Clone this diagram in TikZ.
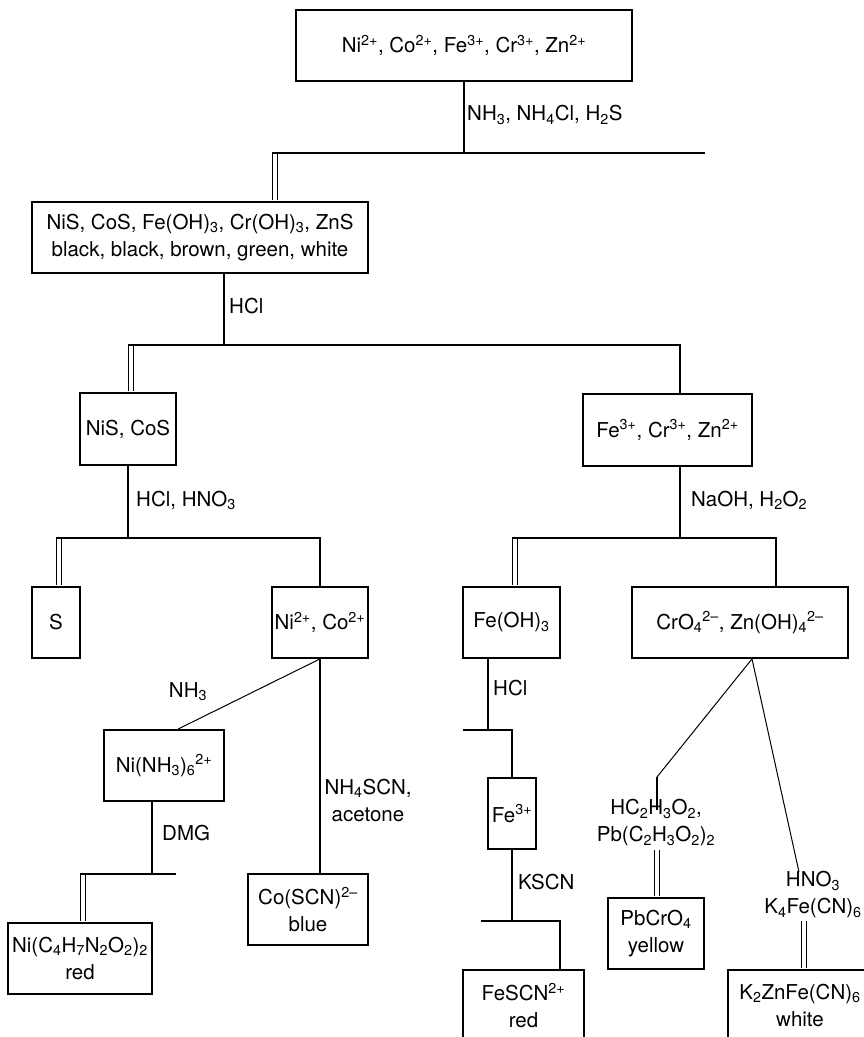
\documentclass[tikz,border=0pt]{standalone}
\usepackage{fontspec}
\setmainfont{TeX Gyre Heros}
\newcommand{\ssub}[1]{\textsubscript{#1}}
\newcommand{\ssup}[1]{\textsuperscript{#1}}
\begin{document}
\begin{tikzpicture}[x=1pt, y=-1pt,
  box/.style={draw, line width=1.8pt, inner sep=0pt, align=center, font=\fontsize{20.5}{27}\selectfont},
  lbl/.style={inner sep=0pt, align=center, font=\fontsize{20.5}{27}\selectfont},
  stem/.style={line width=1.8pt},
  leg/.style={line width=1pt},
  dbl/.style={line width=1.7pt, double=white, double distance=3.4pt, shorten >=0.9pt}]
\useasboundingbox (0,0) rectangle (863,1037);
% boxes
\node[box, minimum width=336pt, minimum height=71pt] (top) at (464,45.5) {Ni\ssup{2+}, Co\ssup{2+}, Fe\ssup{3+}, Cr\ssup{3+}, Zn\ssup{2+}};
\node[box, minimum width=336pt, minimum height=71pt] (ppt) at (200,237.5) {NiS, CoS, Fe(OH)\ssub{3}, Cr(OH)\ssub{3}, ZnS\\black, black, brown, green, white};
\node[box, minimum width=96pt, minimum height=72pt] (nis) at (128,429) {NiS, CoS};
\node[box, minimum width=169pt, minimum height=72pt] (fecrzn) at (667.5,430) {Fe\ssup{3+}, Cr\ssup{3+}, Zn\ssup{2+}};
\node[box, minimum width=48pt, minimum height=71pt] (sulfur) at (56,622.5) {S};
\node[box, minimum width=96pt, minimum height=71pt] (nico) at (320,622.5) {Ni\ssup{2+}, Co\ssup{2+}};
\node[box, minimum width=97pt, minimum height=71pt] (feoh) at (511.5,622.5) {Fe(OH)\ssub{3}};
\node[box, minimum width=216pt, minimum height=71pt] (crzn) at (740,622.5) {CrO\ssub{4}\ssup{2–}, Zn(OH)\ssub{4}\ssup{2–}};
\node[box, minimum width=120pt, minimum height=71pt] (niam) at (164,765.5) {Ni(NH\ssub{3})\ssub{6}\ssup{2+}};
\node[box, minimum width=144pt, minimum height=71pt] (nidmg) at (80,958.5) {Ni(C\ssub{4}H\ssub{7}N\ssub{2}O\ssub{2})\ssub{2}\\red};
\node[box, minimum width=120pt, minimum height=71pt] (coscn) at (308,909.5) {Co(SCN)\ssup{2–}\\blue};
\node[box, minimum width=48pt, minimum height=71pt] (fe) at (512,813.5) {Fe\ssup{3+}};
\node[box, minimum width=121pt, minimum height=71pt] (fescn) at (523.5,1005.5) {FeSCN\ssup{2+}\\red};
\node[box, minimum width=96pt, minimum height=71pt] (pbcro) at (656,933.5) {PbCrO\ssub{4}\\yellow};
\node[box, minimum width=144pt, minimum height=71pt] (kzn) at (800,1005.5) {K\ssub{2}ZnFe(CN)\ssub{6}\\white};
% branch points
\coordinate (j1) at (464,153); \coordinate (j1l) at (272,153); \coordinate (j1r) at (705,153); \coordinate (d1) at (275,153);
\coordinate (j2) at (224,345); \coordinate (j2l) at (128,345); \coordinate (j2r) at (680,345); \coordinate (d2) at (131,345);
\coordinate (j3) at (128,538); \coordinate (j3l) at (56,538); \coordinate (j3r) at (320,538); \coordinate (d3) at (59,538);
\coordinate (j4) at (152,874); \coordinate (j4l) at (80,874); \coordinate (j4r) at (176,874); \coordinate (d4) at (83,874);
\coordinate (j5) at (680,538); \coordinate (j5l) at (512,538); \coordinate (j5r) at (776,538); \coordinate (d5) at (515,538);
\coordinate (j6) at (488,730); \coordinate (j6l) at (463,730); \coordinate (j6r) at (512,730);
\coordinate (j7) at (512,921); \coordinate (j7l) at (481,921); \coordinate (j7r) at (560,921);
\coordinate (k1) at (657,777); \coordinate (k2) at (657,810); \coordinate (d6) at (657,850);
\coordinate (k3) at (799,872); \coordinate (d7) at (804,921);
% precipitate legs
\draw[dbl] (d1) -- (d1 |- ppt.north);
\draw[dbl] (d2) -- (d2 |- nis.north);
\draw[dbl] (d3) -- (d3 |- sulfur.north);
\draw[dbl] (d4) -- (d4 |- nidmg.north);
\draw[dbl] (d5) -- (d5 |- feoh.north);
\draw[dbl] (d6) -- (d6 |- pbcro.north);
\draw[dbl] (d7) -- (d7 |- kzn.north);
% stems and splits
\draw[stem] (top.south) -- (j1);
\draw[stem] (j1l) -- (j1r);
\draw[stem] (j2 |- ppt.south) -- (j2);
\draw[stem] (j2l) -- (j2r) -- (j2r |- fecrzn.north);
\draw[stem] (nis.south) -- (j3);
\draw[stem] (j3l) -- (j3r) -- (nico.north);
\draw[leg] (nico.south) -- ([xshift=14pt]niam.north);
\draw[stem] (nico.south) -- (nico.south |- coscn.north);
\draw[stem] (j4 |- niam.south) -- (j4);
\draw[stem] (j4l) -- (j4r);
\draw[stem] (j5 |- fecrzn.south) -- (j5);
\draw[stem] (j5l) -- (j5r) -- (j5r |- crzn.north);
\draw[stem] (j6 |- feoh.south) -- (j6);
\draw[stem] (j6l) -- (j6r) -- (fe.north);
\draw[stem] (fe.south) -- (j7);
\draw[stem] (j7l) -- (j7r) -- (j7r |- fescn.north);
\draw[leg] ([xshift=12pt]crzn.south) -- (k1);
\draw[stem] (k1) -- (k2);
\draw[leg] ([xshift=12pt]crzn.south) -- (k3);
% reagents
\node[lbl, anchor=west] (r1) at (467,115) {NH\ssub{3}, NH\ssub{4}Cl, H\ssub{2}S};
\node[lbl, anchor=west] (r2) at (229,306) {HCl};
\node[lbl, anchor=west] (r3) at (136,500) {HCl, HNO\ssub{3}};
\node[lbl] (r4) at (188,692) {NH\ssub{3}};
\node[lbl] (r5) at (368,800) {NH\ssub{4}SCN,\\acetone};
\node[lbl, anchor=west] (r6) at (162,833) {DMG};
\node[lbl, anchor=west] (r7) at (691,500) {NaOH, H\ssub{2}O\ssub{2}};
\node[lbl, anchor=west] (r8) at (493,688) {HCl};
\node[lbl, anchor=west] (r9) at (518,882) {KSCN};
\node[lbl] (r10) at (656,823) {HC\ssub{2}H\ssub{3}O\ssub{2},\\Pb(C\ssub{2}H\ssub{3}O\ssub{2})\ssub{2}};
\node[lbl] (r11) at (813,895) {HNO\ssub{3}\\K\ssub{4}Fe(CN)\ssub{6}};
\end{tikzpicture}
\end{document}
